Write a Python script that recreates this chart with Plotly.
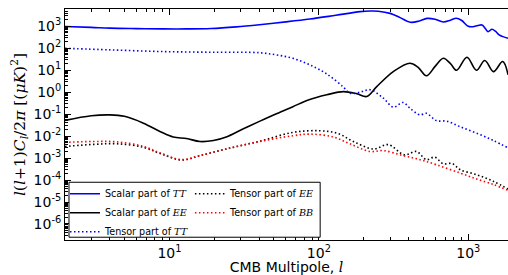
import plotly.graph_objects as go

# Scalar TT
tt_s_l = [2, 3, 4, 6, 9, 13, 19, 28, 40, 60, 87, 130, 189, 220, 250, 300, 350, 410, 470, 530, 600, 680, 760, 830, 900, 1000, 1075, 1160, 1236, 1300, 1356, 1442, 1520, 1600, 1709, 1847]
tt_s_v = [990, 900, 830, 790, 765, 765, 800, 950, 1190, 1600, 2160, 3200, 4660, 5000, 4900, 3900, 2500, 1530, 1750, 2300, 2100, 1580, 1900, 2330, 1900, 1000, 966, 1100, 1156, 800, 573, 736, 600, 420, 340, 287]

# Scalar EE
ee_s_l = [2, 3, 4, 5, 6.7, 8.7, 10.6, 13, 16, 19.7, 24, 31, 40, 52, 67, 85, 113, 146, 180, 209, 244, 315, 407, 460, 525, 600, 681, 760, 836, 980, 1135, 1290, 1475, 1700, 1847]
ee_s_v = [0.052, 0.085, 0.093, 0.08, 0.039, 0.016, 0.0091, 0.0078, 0.0057, 0.0063, 0.0091, 0.021, 0.047, 0.105, 0.22, 0.44, 0.76, 1.07, 0.85, 0.64, 1.8, 8.7, 21, 14, 5.6, 15, 35, 20, 10, 39, 10, 28, 8.7, 25, 6.2]

# Tensor TT
tt_t_l = [2, 4, 9, 20, 40, 52, 67, 87, 113, 146, 161, 189, 220, 270, 315, 366, 410, 475, 525, 611, 718, 880, 1135, 1475, 1847]
tt_t_v = [100, 85, 71, 66, 63, 50, 35, 17.6, 6.8, 1.7, 0.9, 1.0, 1.3, 0.54, 0.21, 0.34, 0.18, 0.093, 0.11, 0.051, 0.048, 0.027, 0.0138, 0.0063, 0.0029]

# Tensor EE
ee_t_l = [2, 3.1, 4.45, 6.7, 8.7, 12.1, 16, 24, 40, 67, 101, 133, 170, 233, 291, 375, 450, 525, 595, 681, 780, 880, 1135, 1475, 1847]
ee_t_v = [0.0034, 0.0042, 0.0045, 0.0031, 0.0016, 0.00082, 0.0013, 0.0026, 0.0058, 0.0148, 0.0176, 0.0135, 0.0057, 0.0026, 0.0041, 0.0014, 0.0020, 0.00085, 0.0011, 0.00055, 0.00057, 0.0003, 0.000176, 8.7e-5, 3.9e-5]

# Tensor BB
bb_t_l = [2, 3.1, 4.45, 6.7, 8.7, 12.1, 16, 24, 40, 67, 87, 125, 161, 220, 270, 366, 475, 611, 880, 1135, 1475, 1847]
bb_t_v = [0.0052, 0.0057, 0.0055, 0.0034, 0.0017, 0.00085, 0.0013, 0.0026, 0.0057, 0.0104, 0.0124, 0.0091, 0.0045, 0.0020, 0.0022, 0.0013, 0.00085, 0.0005, 0.00021, 0.000112, 6.2e-5, 3.4e-5]

y_tickvals = [1e-6, 1e-5, 1e-4, 1e-3, 1e-2, 1e-1, 1, 10, 100, 1000]
y_ticktext = ["10<sup>-6</sup>", "10<sup>-5</sup>", "10<sup>-4</sup>", "10<sup>-3</sup>", "10<sup>-2</sup>",
              "10<sup>-1</sup>", "10<sup>0</sup>", "10<sup>1</sup>", "10<sup>2</sup>", "10<sup>3</sup>"]
x_tickvals = [10, 100, 1000]
x_ticktext = ["10<sup>1</sup>", "10<sup>2</sup>", "10<sup>3</sup>"]
minor_digits = [2, 3, 4, 5, 6, 7, 8, 9]
x_minor = [d * 10 ** e for e in range(0, 4) for d in minor_digits]
y_minor = [d * 10.0 ** e for e in range(-7, 4) for d in minor_digits]

M = "font-family:'DejaVu Serif';font-style:italic"
def mth(s):
    return f"<span style=\"{M}\">{s}</span>"

fig = go.Figure()
dot = "1.5px,2.5px"
fig.add_trace(go.Scatter(x=tt_s_l, y=tt_s_v, mode="lines", line=dict(color="#0000ff", width=1.6, shape="spline"),
                         name="Scalar part of " + mth("TT"), legend="legend"))
fig.add_trace(go.Scatter(x=ee_s_l, y=ee_s_v, mode="lines", line=dict(color="black", width=1.6, shape="spline"),
                         name="Scalar part of " + mth("EE"), legend="legend"))
fig.add_trace(go.Scatter(x=tt_t_l, y=tt_t_v, mode="lines", line=dict(color="#0000ff", width=1.6, dash=dot, shape="spline"),
                         name="Tensor part of " + mth("TT"), legend="legend"))
fig.add_trace(go.Scatter(x=ee_t_l, y=ee_t_v, mode="lines", line=dict(color="black", width=1.6, dash=dot, shape="spline"),
                         name="Tensor part of " + mth("EE"), legend="legend2"))
fig.add_trace(go.Scatter(x=bb_t_l, y=bb_t_v, mode="lines", line=dict(color="#ff0000", width=1.6, dash=dot, shape="spline"),
                         name="Tensor part of " + mth("BB"), legend="legend2"))

legfont = dict(family="DejaVu Sans", size=9.6, color="black")
fig.update_layout(
    width=508, height=275,
    margin=dict(l=65, r=0, t=9, b=35),
    paper_bgcolor="white", plot_bgcolor="white",
    font=dict(family="DejaVu Sans", color="black"),
    legend=dict(x=0.0, y=0.263, xanchor="left", yanchor="top", font=legfont,
                bgcolor="rgba(0,0,0,0)", borderwidth=0, tracegroupgap=0, itemwidth=30),
    legend2=dict(x=0.282, y=0.263, xanchor="left", yanchor="top", font=legfont,
                 bgcolor="rgba(0,0,0,0)", borderwidth=0, tracegroupgap=0, itemwidth=30),
    shapes=[dict(type="rect", xref="paper", yref="paper", x0=0.009, x1=0.576, y0=0.012, y1=0.25,
                 line=dict(color="black", width=1), fillcolor="white", layer="above")],
)
fig.update_xaxes(type="log", range=[0.301, 3.266], showline=True, linecolor="black", linewidth=1,
                 mirror="allticks", ticks="inside", ticklen=6, tickcolor="black",
                 tickvals=x_tickvals, ticktext=x_ticktext, tickfont=dict(size=14),
                 minor=dict(ticks="inside", ticklen=3, tickcolor="black", showgrid=False, tickvals=x_minor),
                 showgrid=False, zeroline=False, automargin=False,
                 title=dict(text="CMB Multipole, " + mth("l"), font=dict(size=14), standoff=0))
fig.update_yaxes(type="log", range=[-6.73, 3.79], showline=True, linecolor="black", linewidth=1,
                 mirror=False, ticks="inside", ticklen=6, tickcolor="black",
                 tickvals=y_tickvals, ticktext=y_ticktext, tickfont=dict(size=14),
                 minor=dict(ticks="inside", ticklen=3, tickcolor="black", showgrid=False, tickvals=y_minor),
                 showgrid=False, zeroline=False, automargin=False,
                 title=dict(text=mth("l") + "(" + mth("l") + "+1)" + mth("C<sub>l</sub>") + "/2" + mth("π") +
                            " [(" + mth("μK") + ")<sup>2</sup>]", font=dict(size=15.5, family="DejaVu Serif"), standoff=4))
fig.write_html("out.html", config={"displayModeBar": False},
               post_script="document.body.style.margin='0';document.body.style.overflow='hidden';")
